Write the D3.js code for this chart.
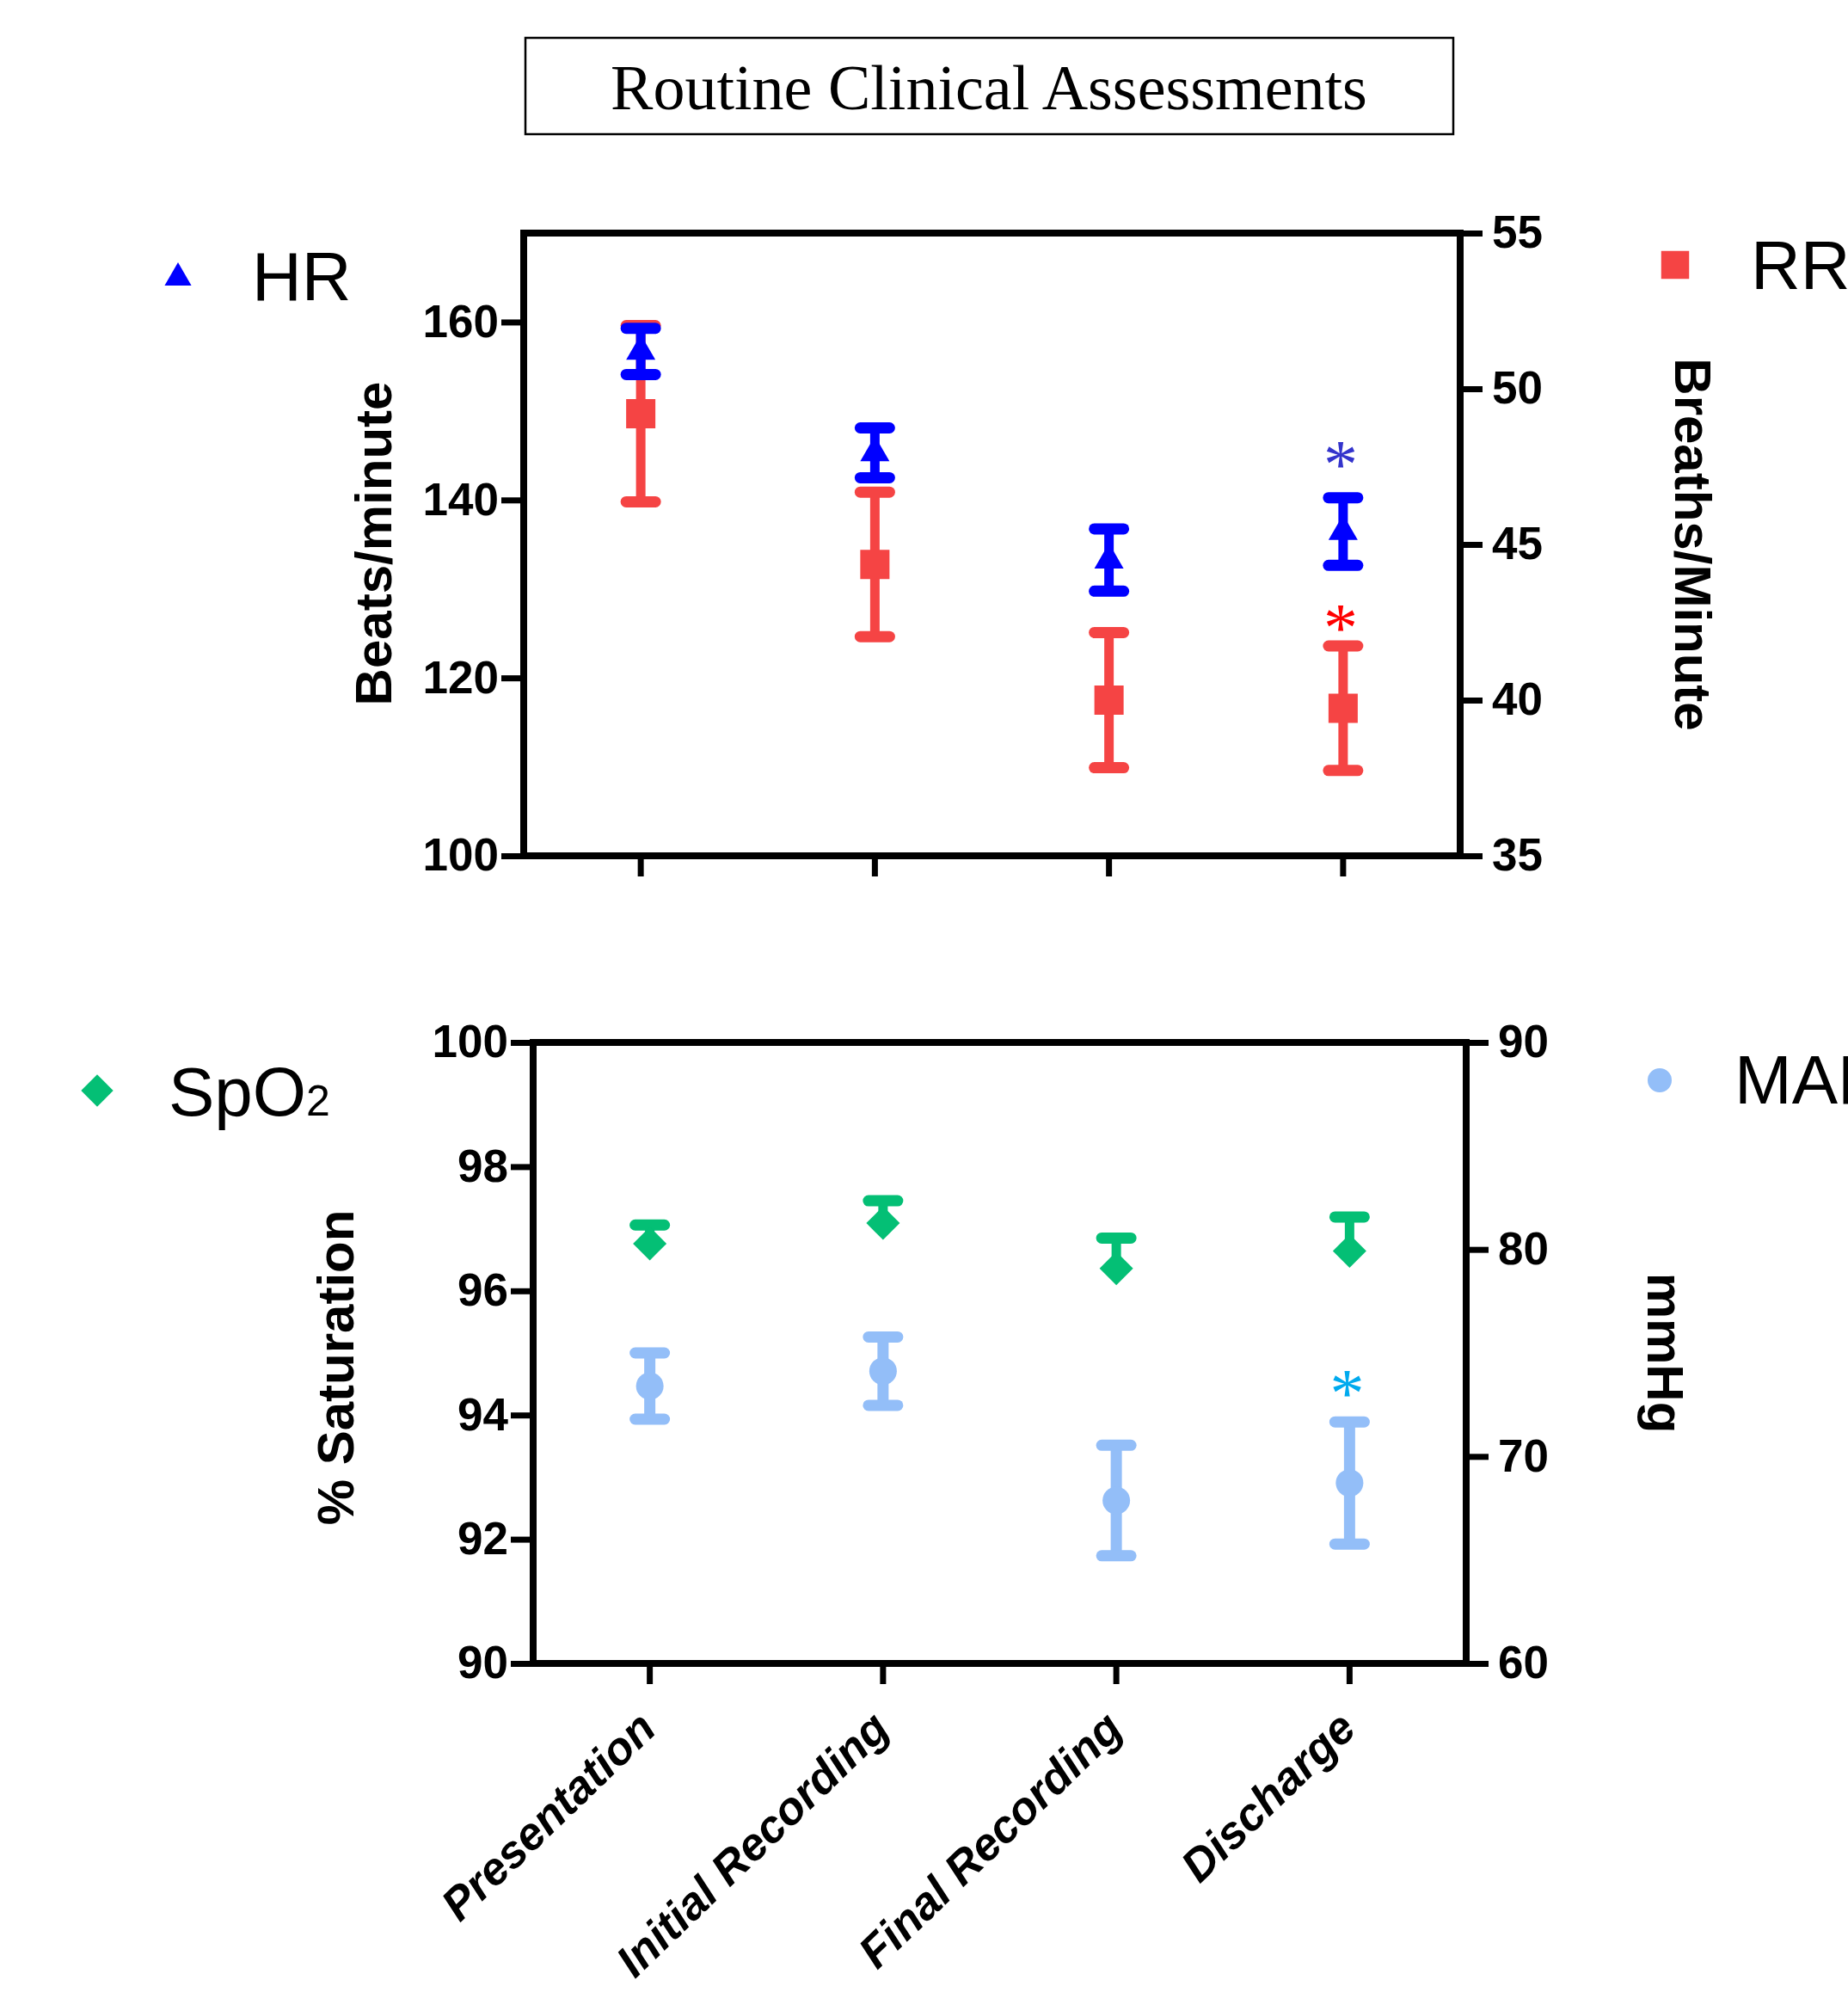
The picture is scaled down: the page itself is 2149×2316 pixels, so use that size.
<!DOCTYPE html>
<html>
<head>
<meta charset="utf-8">
<script src="https://cdn.jsdelivr.net/npm/d3@7"></script>
<style>
  html, body { margin: 0; padding: 0; background: #fff; }
  svg { display: block; }
</style>
</head>
<body>
<svg id="chart" width="2149" height="2316"></svg>
<script>
// ---------------- data ----------------
const categories = ["Presentation", "Initial Recording", "Final Recording", "Discharge"];

// top panel: heart rate (left axis, beats/minute) and respiratory rate (right axis, breaths/minute)
const hrMean = [156.7, 145.3, 133.25, 136.45];
const hrErr  = [2.6, 2.8, 3.5, 3.8];
const rrMean = [49.2, 44.36, 40.0, 39.74];
const rrErr  = [2.83, 2.32, 2.17, 2.0];

// bottom panel: SpO2 (left axis, % saturation) and MAP (right axis, mmHg)
const spo2Mean = [96.76, 97.09, 96.36, 96.64];
const spo2Err  = [0.3, 0.36, 0.49, 0.55];
const mapMean  = [73.4, 74.12, 67.87, 68.72];
const mapErr   = [1.6, 1.65, 2.67, 2.95];

// significance markers (asterisk positions, in axis units; null = none)
const hrSig  = [null, null, null, 145.0];
const rrSig  = [null, null, null, 42.6];
const mapSig = [null, null, null, 73.5];

// axis ticks
const hrTicks   = [100, 120, 140, 160];
const rrTicks   = [35, 40, 45, 50, 55];
const spo2Ticks = [90, 92, 94, 96, 98, 100];
const mapTicks  = [60, 70, 80, 90];

const titleText = "Routine Clinical Assessments";

// ---------------- setup ----------------
const svg = d3.select("#chart");
svg.append("rect").attr("width", 2149).attr("height", 2316).attr("fill", "#fff");

const SANS = "'Liberation Sans', Arial, Helvetica, sans-serif";
const SERIF = "'Liberation Serif', 'Times New Roman', serif";

const colors = {
  hr: "#0000ff", rr: "#f54444", spo2: "#04bf75", map: "#93bef8",
  hrSig: "#3434cc", rrSig: "#ff0000", mapSig: "#00aaee"
};

const symbolRhombus = {
  draw(ctx, size) {
    const r = Math.sqrt(size / 2);
    ctx.moveTo(0, -r); ctx.lineTo(r, 0); ctx.lineTo(0, r); ctx.lineTo(-r, 0); ctx.closePath();
  }
};

// ---------------- title ----------------
svg.append("rect").attr("x", 611).attr("y", 44).attr("width", 1079).attr("height", 112)
  .attr("fill", "none").attr("stroke", "#000").attr("stroke-width", 2.5);
svg.append("text").attr("x", 1150).attr("y", 127).attr("text-anchor", "middle")
  .attr("font-family", SERIF).attr("font-size", 74).attr("fill", "#000").text(titleText);

// ---------------- helpers ----------------
function styleAxis(g, fontSize) {
  g.select(".domain").remove();
  g.selectAll(".tick line").attr("stroke", "#000").attr("stroke-width", 7);
  g.selectAll(".tick text").attr("font-family", SANS).attr("font-weight", "bold")
    .attr("font-size", fontSize).attr("fill", "#000");
}

function panel(p) {
  const g = svg.append("g");
  const x = d3.scaleBand().domain(categories).range([p.x0, p.x1]);
  const yL = d3.scaleLinear().domain(p.leftDomain).range([p.yb, p.yt]);
  const yR = d3.scaleLinear().domain(p.rightDomain).range([p.yb, p.yt]);

  const ax = g.append("g").attr("transform", `translate(${p.x0},0)`)
    .call(d3.axisLeft(yL).tickValues(p.leftTicks).tickSize(26).tickPadding(3).tickFormat(d3.format("d")));
  styleAxis(ax, 53);
  const ar = g.append("g").attr("transform", `translate(${p.x1},0)`)
    .call(d3.axisRight(yR).tickValues(p.rightTicks).tickSize(26).tickPadding(11).tickFormat(d3.format("d")));
  styleAxis(ar, 53);
  const ab = g.append("g").attr("transform", `translate(0,${p.yb})`)
    .call(d3.axisBottom(x).tickSize(24).tickFormat(""));
  styleAxis(ab, 53);

  g.append("rect").attr("x", p.x0).attr("y", p.yt).attr("width", p.x1 - p.x0).attr("height", p.yb - p.yt)
    .attr("fill", "none").attr("stroke", "#000").attr("stroke-width", 8);

  return { g, x, yL, yR };
}

function drawSeries(P, y, means, errs, color, symbolType, symbolSize, barW, upperOnly) {
  const cx = d => P.x(d) + P.x.bandwidth() / 2;
  const rows = categories.map((c, i) => ({ c, m: means[i], e: errs[i] }));
  const s = P.g.append("g");
  s.selectAll("line.bar").data(rows).join("line").attr("class", "bar")
    .attr("x1", d => cx(d.c)).attr("x2", d => cx(d.c))
    .attr("y1", d => y(upperOnly ? d.m : d.m - d.e)).attr("y2", d => y(d.m + d.e))
    .attr("stroke", color).attr("stroke-width", barW);
  (upperOnly ? ["hi"] : ["lo", "hi"]).forEach(k => {
    s.selectAll("line.cap" + k).data(rows).join("line").attr("class", "cap" + k)
      .attr("x1", d => cx(d.c) - 17).attr("x2", d => cx(d.c) + 17)
      .attr("y1", d => y(k === "lo" ? d.m - d.e : d.m + d.e))
      .attr("y2", d => y(k === "lo" ? d.m - d.e : d.m + d.e))
      .attr("stroke", color).attr("stroke-width", 13).attr("stroke-linecap", "round");
  });
  s.selectAll("path.mk").data(rows).join("path").attr("class", "mk")
    .attr("d", d3.symbol().type(symbolType).size(symbolSize))
    .attr("transform", d => `translate(${cx(d.c)},${y(d.m)})`)
    .attr("fill", color);
}

function drawSig(P, y, sig, color) {
  categories.forEach((c, i) => {
    if (sig[i] == null) return;
    const tx = P.x(c) + P.x.bandwidth() / 2 - 3;
    const ty = y(sig[i]);
    const t = P.g.append("text").attr("x", 0).attr("y", 0)
      .attr("font-family", SERIF).attr("font-size", 80).attr("fill", color).text("*");
    const bb = t.node().getBBox();
    t.attr("x", tx - bb.x - bb.width / 2).attr("y", ty + 0.47 * 80);
  });
}

function axisTitle(x, y, rot, text) {
  svg.append("text").attr("transform", `translate(${x},${y}) rotate(${rot})`)
    .attr("text-anchor", "middle").attr("font-family", SANS).attr("font-weight", "bold")
    .attr("font-size", 60).attr("fill", "#000").text(text);
}

function legend(mx, my, symbolType, size, color, tx, ty, label, sub) {
  svg.append("path").attr("d", d3.symbol().type(symbolType).size(size)())
    .attr("transform", `translate(${mx},${my})`).attr("fill", color);
  const t = svg.append("text").attr("x", tx).attr("y", ty).attr("font-family", SANS)
    .attr("font-size", 80).attr("fill", "#000").text(label);
  if (sub) t.append("tspan").attr("font-size", 50).text(sub);
}

// ---------------- top panel ----------------
const topP = panel({ x0: 609, x1: 1698, yt: 271, yb: 995,
  leftDomain: [100, 170], rightDomain: [35, 55], leftTicks: hrTicks, rightTicks: rrTicks });
drawSeries(topP, topP.yR, rrMean, rrErr, colors.rr, d3.symbolSquare, 1156, 11, false);
drawSeries(topP, topP.yL, hrMean, hrErr, colors.hr, d3.symbolTriangle, 500, 11, false);
drawSig(topP, topP.yL, hrSig, colors.hrSig);
drawSig(topP, topP.yR, rrSig, colors.rrSig);

axisTitle(455, 632, -90, "Beats/minute");
axisTitle(1948, 633, 90, "Breaths/Minute");
legend(207, 323, d3.symbolTriangle, 420, colors.hr, 293, 349, "HR");
legend(1948, 308, d3.symbolSquare, 1056, colors.rr, 2036, 336, "RR");

// ---------------- bottom panel ----------------
const botP = panel({ x0: 620, x1: 1705, yt: 1212, yb: 1934,
  leftDomain: [90, 100], rightDomain: [60, 90], leftTicks: spo2Ticks, rightTicks: mapTicks });
drawSeries(botP, botP.yR, mapMean, mapErr, colors.map, d3.symbolCircle, 804, 13, false);
drawSeries(botP, botP.yL, spo2Mean, spo2Err, colors.spo2, symbolRhombus, 760, 11, true);
drawSig(botP, botP.yR, mapSig, colors.mapSig);

axisTitle(411, 1590, -90, "% Saturation");
axisTitle(1916, 1573, 90, "mmHg");
legend(113, 1268, symbolRhombus, 700, colors.spo2, 196, 1297, "SpO", "2");
legend(1930, 1256, d3.symbolCircle, 616, colors.map, 2017, 1283, "MAP");

// rotated category labels under bottom panel
botP.g.append("g").selectAll("text").data(categories).join("text")
  .attr("transform", d => `translate(${botP.x(d) + botP.x.bandwidth() / 2 + 10},2013) rotate(-44)`)
  .attr("text-anchor", "end").attr("font-family", SANS).attr("font-weight", "bold")
  .attr("font-style", "italic").attr("font-size", 53).attr("fill", "#000").text(d => d);
</script>
</body>
</html>
